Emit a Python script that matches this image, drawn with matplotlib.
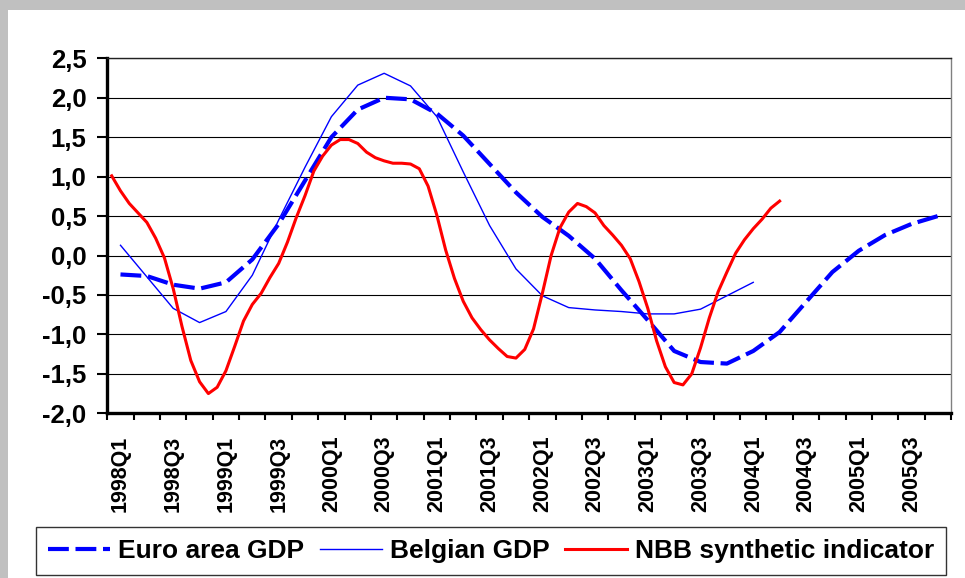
"""Euro area GDP, Belgian GDP and the NBB synthetic indicator (1998-2005)."""

import matplotlib

matplotlib.use("Agg")

import matplotlib.pyplot as plt
from matplotlib.patches import Rectangle
from matplotlib.ticker import FixedLocator, FuncFormatter

plt.rcParams["font.family"] = ["Liberation Sans", "DejaVu Sans"]
plt.rcParams["font.weight"] = "bold"

# quarterly categories 1998Q1 .. 2005Q4
QUARTERS = [
    "1998Q1", "1998Q2", "1998Q3", "1998Q4",
    "1999Q1", "1999Q2", "1999Q3", "1999Q4",
    "2000Q1", "2000Q2", "2000Q3", "2000Q4",
    "2001Q1", "2001Q2", "2001Q3", "2001Q4",
    "2002Q1", "2002Q2", "2002Q3", "2002Q4",
    "2003Q1", "2003Q2", "2003Q3", "2003Q4",
    "2004Q1", "2004Q2", "2004Q3", "2004Q4",
    "2005Q1", "2005Q2", "2005Q3", "2005Q4",
]

EURO_AREA_GDP = [
    -0.24, -0.26, -0.37, -0.42, -0.34, -0.05, 0.40, 0.95,
    1.50, 1.85, 2.00, 1.98, 1.80, 1.52, 1.16, 0.80,
    0.49, 0.25, -0.04, -0.44, -0.82, -1.21, -1.35, -1.37,
    -1.21, -0.97, -0.59, -0.21, 0.06, 0.26, 0.40, 0.50,
]

# Belgian GDP stops at 2004Q1
BELGIAN_GDP = [
    0.13, -0.27, -0.67, -0.85, -0.71, -0.25, 0.45, 1.12,
    1.76, 2.16, 2.31, 2.15, 1.76, 1.06, 0.38, -0.17,
    -0.51, -0.66, -0.69, -0.71, -0.74, -0.74, -0.68, -0.51,
    -0.34,
]

# monthly, January 1998 .. May 2004
NBB_INDICATOR = [
    1.01, 0.82, 0.66, 0.54, 0.42, 0.22, -0.03, -0.42, -0.90, -1.33,
    -1.60, -1.75, -1.67, -1.46, -1.15, -0.83, -0.62, -0.48, -0.28, -0.10,
    0.17, 0.48, 0.76, 1.07, 1.26, 1.40, 1.47, 1.47, 1.42, 1.31,
    1.24, 1.20, 1.17, 1.17, 1.16, 1.10, 0.88, 0.51, 0.07, -0.29,
    -0.58, -0.79, -0.94, -1.07, -1.18, -1.28, -1.30, -1.19, -0.93, -0.48,
    0.00, 0.35, 0.55, 0.66, 0.62, 0.54, 0.38, 0.26, 0.13, -0.04,
    -0.33, -0.67, -1.08, -1.41, -1.61, -1.64, -1.50, -1.17, -0.79, -0.46,
    -0.21, 0.03, 0.20, 0.34, 0.46, 0.60, 0.69,
]

Y_TICKS = [-2.0, -1.5, -1.0, -0.5, 0.0, 0.5, 1.0, 1.5, 2.0, 2.5]


def main() -> int:
    fig = plt.figure(figsize=(9.65, 5.78), dpi=100, facecolor="#c0c0c0")
    fig.patches.append(
        Rectangle((8 / 965, 0), 1, 1 - 10 / 578, transform=fig.transFigure,
                  facecolor="white", edgecolor="none", zorder=-5)
    )
    ax = fig.add_axes([107.3 / 965, 1 - 413.3 / 578, (951 - 107.3) / 965, 355 / 578])
    ax.set_facecolor("white")

    q_x = list(range(len(QUARTERS)))
    m_x = [(m - 1) / 3 for m in range(len(NBB_INDICATOR))]

    ax.plot(q_x, EURO_AREA_GDP, color="#0000ff", lw=3.0, dashes=(5.0, 1.6),
            label="Euro area GDP", zorder=3)
    ax.plot(q_x[: len(BELGIAN_GDP)], BELGIAN_GDP, color="#0000ff", lw=1.0,
            label="Belgian GDP", zorder=3)
    ax.plot(m_x, NBB_INDICATOR, color="#ff0000", lw=2.2,
            label="NBB synthetic indicator", zorder=4)

    ax.set_xlim(-0.5, len(QUARTERS) - 0.5)
    ax.set_ylim(-2.0, 2.5)
    ax.set_yticks(Y_TICKS)
    ax.yaxis.set_major_formatter(FuncFormatter(lambda v, _: f"{v:.1f}".replace(".", ",")))
    ax.grid(axis="y", color="black", lw=0.8)
    ax.set_axisbelow(True)

    # tick marks between categories, labels on every other category centre
    ax.xaxis.set_major_locator(FixedLocator([i - 0.5 for i in range(len(QUARTERS) + 1)]))
    ax.xaxis.set_major_formatter(FuncFormatter(lambda v, _: ""))
    ax.xaxis.set_minor_locator(FixedLocator(q_x[::2]))
    ax.set_xticklabels(QUARTERS[::2], minor=True, rotation=90)
    ax.tick_params(axis="x", which="major", length=5, width=1.5, direction="out")
    ax.tick_params(axis="x", which="minor", length=0, pad=16, labelsize=15.5)
    ax.tick_params(axis="y", length=7, width=1.5, direction="out", pad=8, labelsize=18.5)

    for side in ("left", "bottom"):
        ax.spines[side].set_linewidth(2.4)
        ax.spines[side].set_color("black")
    ax.spines["top"].set_linewidth(1.0)
    ax.spines["top"].set_color("#222222")
    ax.spines["right"].set_linewidth(1.0)
    ax.spines["right"].set_color("#808080")

    leg = fig.legend(loc="center", bbox_to_anchor=(491 / 965, 1 - 551 / 578), ncol=3,
                     frameon=True, fancybox=False, edgecolor="black", fontsize=19,
                     handlelength=2.35, handletextpad=0.3, columnspacing=0.6,
                     borderpad=0.45, borderaxespad=0)
    leg.get_frame().set_linewidth(1.0)

    fig.savefig("out.png", dpi=100, facecolor=fig.get_facecolor())
    plt.close(fig)
    return 0


if __name__ == "__main__":
    raise SystemExit(main())
